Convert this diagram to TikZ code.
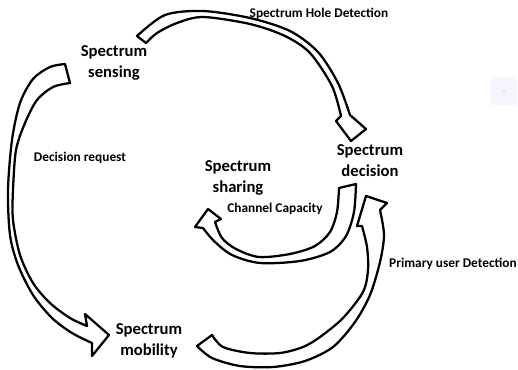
\documentclass[tikz,border=0pt]{standalone}
\usepackage{fontspec}
\setmainfont{Carlito}
\begin{document}
\begin{tikzpicture}[x=0.75pt,y=-0.75pt,
  arr/.style={draw=black,line width=1.7pt,fill=white,line join=round},
  big/.style={font=\bfseries\fontsize{12.5}{15.75}\selectfont,align=center,inner sep=0pt},
  small/.style={font=\bfseries\fontsize{10}{12}\selectfont,inner sep=0pt}]
\useasboundingbox (0,0) rectangle (518,369);
% faint artifact square
\fill[blue!4] (491,77) rectangle (517,105);
\fill[gray!25] (504,91) circle (1.6);
% top arrow: sensing -> decision
\draw[arr] plot[smooth] coordinates {(137,36) (165,15) (203,11) (250,18) (290,31) (318,52) (338,83) (350,115)}
  -- (366,129) -- (351,141) -- (336,121) -- (341,116)
  -- plot[smooth] coordinates {(341,116) (332,86) (310,53) (285,36) (250,24) (203,17) (177,23) (157,33) (146,43)}
  -- cycle;
% left arrow: sensing -> mobility
\draw[arr] plot[smooth] coordinates {(65,64) (50,67) (33,79) (20,103) (12,140) (8,190) (10,235) (18,265) (33,295) (52,318) (72,333) (92,343)}
  -- (92,356) -- (109,335) -- (85,314) -- (87,326)
  -- plot[smooth] coordinates {(87,326) (70,318) (50,303) (33,283) (20,255) (13,220) (13,190) (16,150) (25,123) (37,100) (53,87) (70,83)}
  -- cycle;
% bottom-right arrow: mobility -> decision
\draw[arr] plot[smooth] coordinates {(197,346) (212,358) (240,366) (273,367) (305,361) (333,347) (355,322) (370,295) (380,262) (384,235) (380,210)}
  -- (387,203) -- (366,196) -- (357,226) -- (362,226)
  -- plot[smooth] coordinates {(362,226) (367,247) (368,270) (363,292) (343,318) (320,337) (303,347) (280,353) (250,353) (223,347) (212,335)}
  -- cycle;
% middle arrow: decision -> sharing
\draw[arr] (208,209) -- (221,219) -- (215,222)
  -- plot[smooth] coordinates {(215,222) (222,238) (236,249) (259,257) (290,254) (315,246) (330,232) (337,212) (339,188)}
  -- (356,184)
  -- plot[smooth] coordinates {(356,184) (354,212) (346,236) (330,252) (300,261) (260,263) (232,255) (214,241) (203,228)}
  -- (195,227) -- cycle;
% labels
\node[big] (sensing) at (114,63) {Spectrum\\sensing};
\node[big] (decision) at (370,161) {Spectrum\\decision};
\node[big] (sharing) at (238,178) {Spectrum\\sharing};
\node[big] (mobility) at (149,341) {Spectrum\\mobility};
\node[small] (hole) at (319,14) {Spectrum Hole Detection};
\node[small] (request) at (80,158) {Decision request};
\node[small] (capacity) at (275,209) {Channel Capacity};
\node[small] (primary) at (453,264) {Primary user Detection};
\end{tikzpicture}
\end{document}
